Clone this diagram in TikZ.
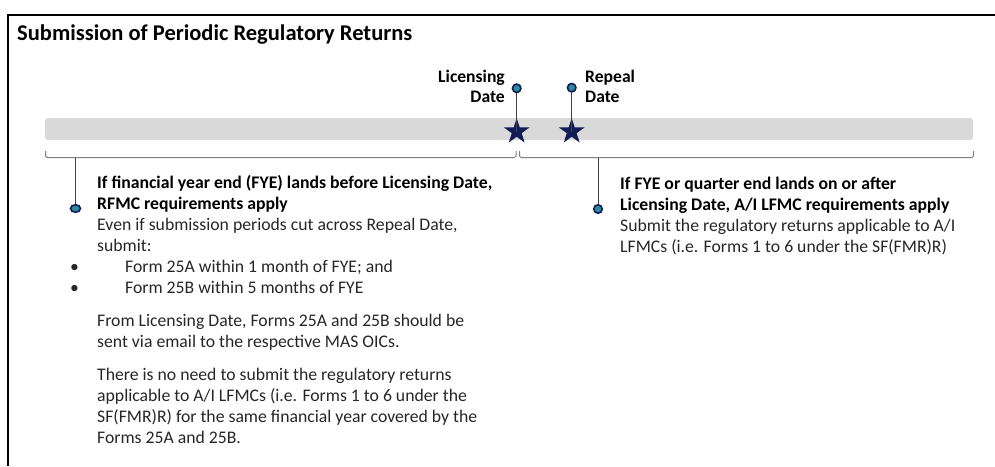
\documentclass[tikz,border=0pt]{standalone}
\usepackage{fontspec}
\setmainfont{Carlito}
\usetikzlibrary{shapes.geometric}

\definecolor{navy}{HTML}{111C57}
\definecolor{dotfill}{HTML}{2A8C9A}
\definecolor{bargray}{HTML}{D9D9D9}
\definecolor{linegray}{HTML}{7F7F7F}
\definecolor{stemgray}{HTML}{404040}
\definecolor{textgray}{HTML}{262626}

\begin{document}
\begin{tikzpicture}[x=1pt,y=-1pt]
    \useasboundingbox (0,0) rectangle (995,466);
    \begin{scope}[body/.style={anchor=base west, inner sep=0, align=left, text=textgray, font=\fontsize{17.7}{20.9}\selectfont},
                  datelabel/.style={inner sep=0, font=\bfseries\fontsize{17.6}{20}\selectfont},
                  topdot/.style={circle, draw=navy, fill=dotfill, line width=1.6pt, minimum size=8.5pt, inner sep=0},
                  lowdot/.style={ellipse, draw=navy, fill=dotfill, line width=1.6pt, minimum width=10pt, minimum height=7.5pt, inner sep=0},
                  datestar/.style={star, star points=5, star point ratio=2.6, fill=navy, minimum size=27pt, inner sep=0},
                  bracket/.style={draw=linegray, line width=1pt, rounded corners=1.5pt}]
        % frame and heading
        \draw[line width=2pt] (7.5,466) -- (7.5,15) -- (995,15);
        \node[anchor=base west, inner sep=0, font=\bfseries\fontsize{22.5}{26}\selectfont] (title) at (17,40) {Submission of Periodic Regulatory Returns};
        % time line
        \node[fill=bargray, rounded corners=3pt, minimum width=928pt, minimum height=22pt, inner sep=0] (bar) at (509,129) {};
        \node[datestar] (licstar) at (516.7,131.6) {};
        \node[datestar] (repstar) at (571.7,131.6) {};
        \node[topdot] (licdot) at (516.7,88.3) {};
        \node[topdot] (repdot) at (571.7,87.7) {};
        \draw[stemgray, line width=0.8pt] (licdot) -- (licstar.center);
        \draw[stemgray, line width=0.8pt] (repdot) -- (repstar.center);
        \node[datelabel, align=right, anchor=base east] (liclabel) at (505,102) {Licensing\\Date};
        \node[datelabel, align=left, anchor=base west] (replabel) at (585,102) {Repeal\\Date};
        % periods before and after
        \coordinate (lbl) at (45.7,151);
        \coordinate (lbr) at (516,151);
        \coordinate (rbl) at (519.5,151);
        \coordinate (rbr) at (973.5,151);
        \draw[bracket] (lbl) -- (lbl |- 0,157.5) -- (lbr |- 0,157.5) -- (lbr);
        \draw[bracket] (rbl) -- (rbl |- 0,157.5) -- (rbr |- 0,157.5) -- (rbr);
        \node[lowdot] (ldot) at (75.5,208.5) {};
        \node[topdot] (rdot) at (598,209) {};
        \coordinate (lstem) at (75.5,157.5);
        \coordinate (rstem) at (598,157.5);
        \draw[stemgray, line width=0.8pt] (lstem) -- (ldot);
        \draw[stemgray, line width=0.8pt] (rstem) -- (rdot);
        % text under each period
        \node[body] (lhead) at (97,293) {\textcolor{black}{\bfseries If financial year end (FYE) lands before Licensing Date,}\\
            \textcolor{black}{\bfseries RFMC requirements apply}\\
            Even if submission periods cut across Repeal Date,\\
            submit:\\
            \hspace*{-27pt}\makebox[55pt][l]{\textbullet}Form 25A within 1 month of FYE; and\\
            \hspace*{-27pt}\makebox[55pt][l]{\textbullet}Form 25B within 5 months of FYE};
        \node[body] (lmail) at (97,347) {From Licensing Date, Forms 25A and 25B should be\\
            sent via email to the respective MAS OICs.};
        \node[body] (lnone) at (97,443) {There is no need to submit the regulatory returns\\
            applicable to A/I LFMCs (i.e. Forms 1 to 6 under the\\
            SF(FMR)R) for the same financial year covered by the\\
            Forms 25A and 25B.};
        \node[body] (rhead) at (620,252) {\textcolor{black}{\bfseries If FYE or quarter end lands on or after}\\
            \textcolor{black}{\bfseries Licensing Date, A/I LFMC requirements apply}\\
            Submit the regulatory returns applicable to A/I\\
            LFMCs (i.e. Forms 1 to 6 under the SF(FMR)R)};
    \end{scope}
\end{tikzpicture}
\end{document}
